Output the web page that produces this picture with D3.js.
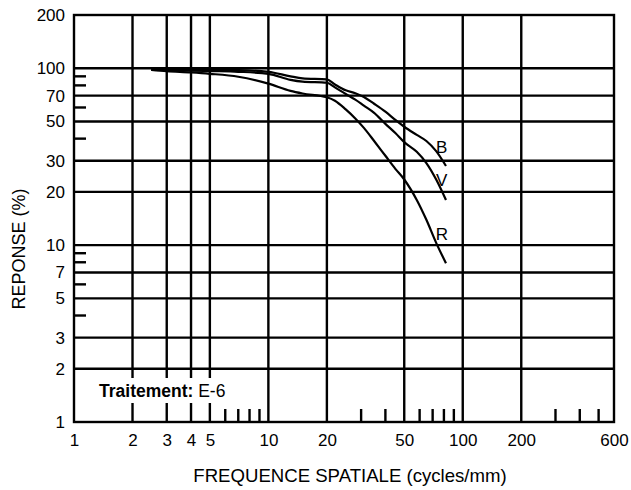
<!DOCTYPE html>
<html><head><meta charset="utf-8">
<script src="https://cdn.jsdelivr.net/npm/d3@7"></script>
<style>
body{margin:0;background:#fff}
svg{display:block}
text{font-family:"Liberation Sans",Arial,Helvetica,sans-serif;fill:#000}
</style>
</head><body><svg id="c" width="631" height="490"></svg>
<script>
// Spatial frequency (cycles/mm)
const freq  = [2.5, 3, 4, 5, 7, 10, 13, 15, 20, 22, 25, 28, 31, 35, 40, 45, 50, 58, 65, 73, 82];
// Response (%) per layer
const respB = [98, 98, 98, 97.8, 97.5, 95.5, 90, 87.7, 86.5, 81, 75, 72.3, 68.8, 63, 56.8, 51, 46.7, 42, 38.8, 34, 28];
const respV = [98, 97.4, 97, 96.4, 95.5, 93, 86, 84, 82.8, 78, 71.5, 66.5, 61.5, 56, 48.5, 43, 38.2, 33.7, 29.1, 23.5, 18];
const respR = [98, 96.4, 94.7, 93, 89.5, 81.8, 74.5, 72, 68.5, 65.5, 58.5, 52, 46, 38.8, 32, 27, 23.5, 18, 13.9, 10.3, 7.9];
const seriesNames = ["B", "V", "R"];
const labelFreq = [78, 78, 78];
const labelResp = [33.2, 21.6, 10.7];

const xGrid = [2, 3, 4, 5, 10, 20, 50, 100, 200];
const yGrid = [2, 3, 5, 7, 10, 20, 30, 50, 70, 100];
const xTickLabels = [1, 2, 3, 4, 5, 10, 20, 50, 100, 200, 600];
const yTickLabels = [1, 2, 3, 5, 7, 10, 20, 30, 50, 70, 100, 200];
const xMinor = [6, 7, 8, 9, 30, 40, 60, 70, 80, 90, 300, 400, 500];
const yMinor = [4, 6, 8, 9, 40, 60, 80, 90];

const x = d3.scaleLog().domain([1, 600]).range([74, 614]);
const y = d3.scaleLog().domain([1, 200]).range([422, 15]);
const svg = d3.select("#c");
const SW = 2.4;

// grid
svg.append("g").selectAll("line").data(xGrid).join("line")
  .attr("x1", d => x(d)).attr("x2", d => x(d))
  .attr("y1", y(1)).attr("y2", y(200))
  .attr("stroke", "#000").attr("stroke-width", SW);
svg.append("g").selectAll("line").data(yGrid).join("line")
  .attr("x1", x(1)).attr("x2", x(600))
  .attr("y1", d => y(d)).attr("y2", d => y(d))
  .attr("stroke", "#000").attr("stroke-width", SW);

// minor ticks
svg.append("g").selectAll("line").data(xMinor).join("line")
  .attr("x1", d => x(d)).attr("x2", d => x(d))
  .attr("y1", y(1)).attr("y2", y(1) - 13)
  .attr("stroke", "#000").attr("stroke-width", SW);
svg.append("g").selectAll("line").data(yMinor).join("line")
  .attr("x1", x(1)).attr("x2", x(1) + 12)
  .attr("y1", d => y(d)).attr("y2", d => y(d))
  .attr("stroke", "#000").attr("stroke-width", SW);

// treatment label box
svg.append("rect").attr("x", 92).attr("y", 378).attr("width", 148).attr("height", 25).attr("fill", "#fff");
const tt = svg.append("text").attr("x", 99).attr("y", 397).attr("font-size", 17.5);
tt.append("tspan").attr("font-weight", "bold").text("Traitement:");
tt.append("tspan").text(" E-6");

// frame
svg.append("rect").attr("x", x(1)).attr("y", y(200))
  .attr("width", x(600) - x(1)).attr("height", y(1) - y(200))
  .attr("fill", "none").attr("stroke", "#000").attr("stroke-width", SW);

// axes labels
const ax = svg.append("g").attr("transform", `translate(0,${y(1)})`)
  .call(d3.axisBottom(x).tickValues(xTickLabels).tickFormat(d3.format("d")).tickSize(0).tickPadding(12));
ax.select(".domain").remove();
ax.selectAll("text").attr("font-size", 17).attr("font-family", null);
const ay = svg.append("g").attr("transform", `translate(${x(1)},0)`)
  .call(d3.axisLeft(y).tickValues(yTickLabels).tickFormat(d3.format("d")).tickSize(0).tickPadding(9));
ay.select(".domain").remove();
ay.selectAll("text").attr("font-size", 17).attr("font-family", null);

// curves
const line = d3.line().x(d => x(d[0])).y(d => y(d[1])).curve(d3.curveMonotoneX);
[respB, respV, respR].forEach((r, i) => {
  svg.append("path").attr("d", line(freq.map((f, j) => [f, r[j]])))
    .attr("fill", "none").attr("stroke", "#000").attr("stroke-width", 2.2);
  svg.append("text").attr("x", x(labelFreq[i])).attr("y", y(labelResp[i]))
    .attr("text-anchor", "middle").attr("font-size", 17).text(seriesNames[i]);
});

// titles
svg.append("text").attr("x", 350).attr("y", 482).attr("text-anchor", "middle")
  .attr("font-size", 18.6).text("FREQUENCE SPATIALE (cycles/mm)");
svg.append("text").attr("transform", "translate(25,249) rotate(-90)").attr("text-anchor", "middle")
  .attr("font-size", 18).text("REPONSE (%)");
</script></body></html>
